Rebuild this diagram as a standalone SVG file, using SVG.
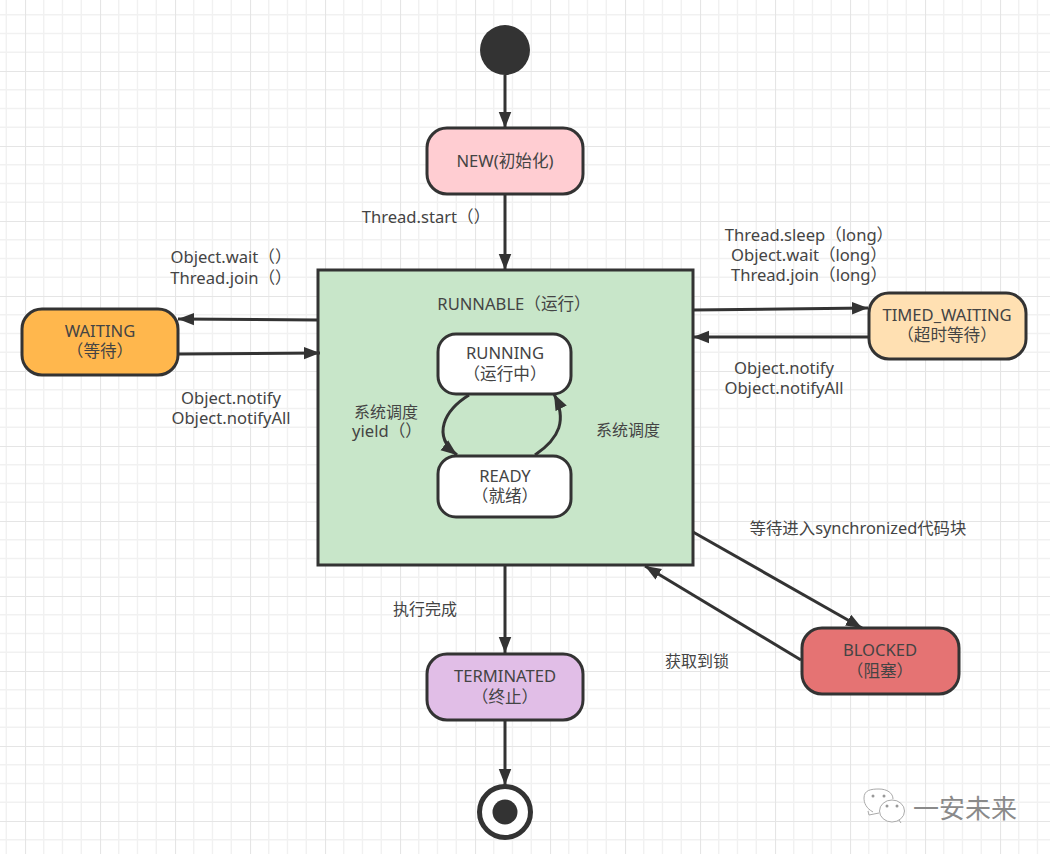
<svg xmlns="http://www.w3.org/2000/svg" width="1050" height="854" viewBox="0 0 1050 854">
<style>
text{font-family:"Noto Sans","Noto Sans CJK SC",sans-serif;font-size:16.6px;fill:#444;text-anchor:middle}
text.z{font-size:16px}
.n{stroke:#333;stroke-width:3}
.c{fill:none;stroke:#333;stroke-width:3}
.a{marker-end:url(#arrow)}
</style>
<defs>
<marker id="arrow" markerUnits="userSpaceOnUse" markerWidth="18" markerHeight="14" refX="16" refY="6.5" orient="auto"><path d="M0 0.25L16 6.5L0 12.75Z" fill="#333"/></marker>
<pattern id="grid" patternUnits="userSpaceOnUse" width="75" height="75" x="25" y="71">
<path d="M18.75 0V75M37.5 0V75M56.25 0V75M0 18.75H75M0 37.5H75M0 56.25H75" stroke="#f1f1f1" stroke-width="1.4" fill="none"/>
<path d="M0.4 0V75M0 0.4H75" stroke="#e5e5e5" stroke-width="1.4" fill="none"/>
</pattern>
</defs>
<rect width="1050" height="854" fill="#fff"/>
<rect width="1050" height="854" fill="url(#grid)"/>
<g id="start"><circle cx="505" cy="50" r="25" fill="#333"/></g>
<g id="new"><rect class="n" x="427" y="128" width="156" height="66" rx="20" fill="#ffcdd2"/><text x="505" y="167">NEW(初始化)</text></g>
<g id="runnable"><rect class="n" x="318" y="270" width="375" height="295" fill="#c8e6c9"/><text x="514" y="310">RUNNABLE（运行）</text></g>
<g id="running"><rect class="n" x="438" y="334" width="133" height="60" rx="18" fill="#fff"/><text x="505" y="359">RUNNING</text><text x="505" y="380">（运行中）</text></g>
<g id="ready"><rect class="n" x="438" y="456" width="133" height="61" rx="18" fill="#fff"/><text x="505" y="482">READY</text><text x="505" y="502">（就绪）</text></g>
<g id="waiting"><rect class="n" x="22" y="309" width="156" height="66" rx="20" fill="#ffb74d"/><text x="100" y="337">WAITING</text><text x="100" y="357">（等待）</text></g>
<g id="timed_waiting"><rect class="n" x="869" y="293" width="157" height="66" rx="20" fill="#ffe0b2"/><text x="947" y="321">TIMED_WAITING</text><text x="947" y="341">（超时等待）</text></g>
<g id="blocked"><rect class="n" x="802" y="628" width="157" height="66" rx="20" fill="#e57373"/><text x="880" y="656">BLOCKED</text><text x="880" y="677">（阻塞）</text></g>
<g id="terminated"><rect class="n" x="427" y="654" width="156" height="66" rx="20" fill="#e1bee7"/><text x="505" y="682">TERMINATED</text><text x="505" y="703">（终止）</text></g>
<g id="end"><circle cx="505" cy="812" r="25.5" fill="#fff" stroke="#333" stroke-width="5"/><circle cx="505" cy="812" r="12.5" fill="#333"/></g>
<g id="connectors">
<path class="c a" d="M505 75V128"/>
<path class="c a" d="M505 194V270"/>
<path class="c a" d="M505 565V653"/>
<path class="c a" d="M505 720V785"/>
<path class="c a" d="M318 320L178 319"/>
<path class="c a" d="M179 354L320 353"/>
<path class="c a" d="M693 310L868 308"/>
<path class="c a" d="M868 337L693 337"/>
<path class="c a" d="M693 532L862 628"/>
<path class="c a" d="M801 660L645 566"/>
<path class="c a" d="M469 395C445 410 431 435 457 455"/>
<path class="c a" d="M535 455C560 438 567 420 554 394"/>
</g>
<g id="labels">
<text x="426" y="223">Thread.start（）</text>
<text x="231" y="263">Object.wait（）</text>
<text x="231" y="284">Thread.join（）</text>
<text x="231" y="404">Object.notify</text>
<text x="231" y="424">Object.notifyAll</text>
<text x="809" y="241">Thread.sleep（long）</text>
<text x="809" y="261">Object.wait（long）</text>
<text x="809" y="281">Thread.join（long）</text>
<text x="784" y="374">Object.notify</text>
<text x="784" y="394">Object.notifyAll</text>
<text class="z" x="386" y="418">系统调度</text>
<text x="387" y="437">yield（）</text>
<text class="z" x="628" y="436">系统调度</text>
<text x="858" y="534" style="font-size:16.4px">等待进入synchronized代码块</text>
<text class="z" x="425" y="615">执行完成</text>
<text class="z" x="697" y="667">获取到锁</text>
</g>
<g id="watermark">
<path d="M873 812C866 808 864 803 864 798C864 790 871 789 879 789C887 789 893 793 893 799" fill="#fff" stroke="#aaa" stroke-width="1"/>
<path d="M868 811L869 815L879 813" fill="none" stroke="#aaa" stroke-width="1"/>
<ellipse cx="892" cy="811" rx="12.5" ry="11" fill="#fff" stroke="#aaa" stroke-width="1"/>
<path d="M899 820L901 823" stroke="#aaa" stroke-width="1"/>
<circle cx="873" cy="796" r="1.5" fill="#999"/><circle cx="884" cy="796" r="1.5" fill="#999"/><circle cx="887" cy="806" r="1.5" fill="#999"/><circle cx="897" cy="806" r="1.5" fill="#999"/>
<text x="965" y="818" style="font-size:26px;fill:#8a8a8a;font-family:'Noto Sans CJK SC',sans-serif">一安未来</text>
</g>
</svg>
